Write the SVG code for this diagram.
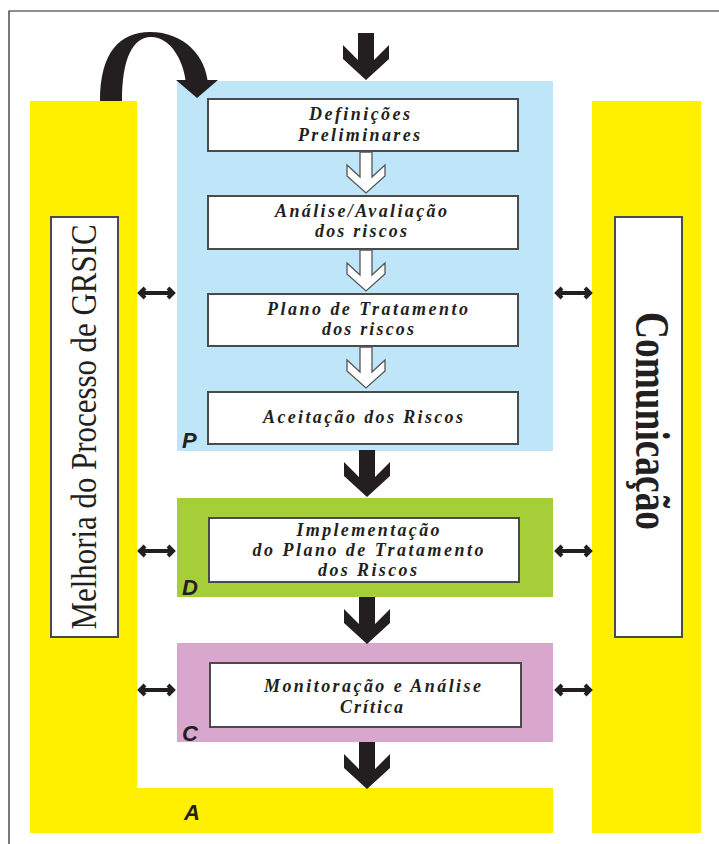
<svg xmlns="http://www.w3.org/2000/svg" width="719" height="844" viewBox="0 0 719 844">
<defs>
<style>
.yel{fill:#FFF000}
.box{fill:#ffffff;stroke:#4a4a4a;stroke-width:2}
.lbl{font-family:"Liberation Serif","Times New Roman",serif;font-weight:bold;font-style:italic;font-size:18px;fill:#231F20;text-anchor:middle}
.pdca{font-family:"Liberation Sans",Arial,sans-serif;font-weight:bold;font-style:italic;font-size:22px;fill:#231F20}
.side{font-family:"Liberation Serif","Times New Roman",serif;fill:#231F20;text-anchor:middle}
.big{fill:#231F20}
.hollow{fill:#ffffff;stroke:#555;stroke-width:1.3;stroke-linejoin:miter}
.dbl{fill:none;stroke:#231F20;stroke-width:4;stroke-linecap:butt;stroke-linejoin:miter}
</style>
<polygon id="bigArrow" points="-8,0 8,0 8,27 23,12 23,26 0,47 -23,26 -23,12 -8,27"/>
<polygon id="whiteArrow" points="-6,0 6,0 6,25 19,13 19,24 0,41 -19,24 -19,13 -6,25"/>
<g id="dblArrow">
<line x1="3" y1="0" x2="36" y2="0"/>
<polyline points="8,-5 3,0 8,5"/>
<polyline points="31,-5 36,0 31,5"/>
</g>
</defs>
<rect x="0" y="0" width="719" height="844" fill="#ffffff"/>
<g id="frame" fill="none" stroke="#231F20" stroke-width="1.2">
<polyline points="9,844 9,11 719,11"/>
</g>
<g id="melhoria">
<path class="yel" d="M30,101 H137 V788 H553 V833 H30 Z"/>
<rect class="box" x="51" y="217" width="67" height="420"/>
<text class="side" transform="translate(96,427) rotate(-90)" font-size="36" textLength="405" lengthAdjust="spacingAndGlyphs">Melhoria do Processo de GRSIC</text>
</g>
<g id="A">
<text class="pdca" x="184" y="820">A</text>
</g>
<g id="comunicacao">
<rect class="yel" x="592" y="101" width="109" height="732"/>
<rect class="box" x="615" y="217" width="67" height="420"/>
<text class="side" transform="translate(636,421) rotate(90)" font-size="48" font-weight="bold" textLength="218" lengthAdjust="spacingAndGlyphs">Comunicação</text>
</g>
<g id="P">
<rect x="177" y="81" width="376" height="370" fill="#BEE5F8"/>
<text class="pdca" x="182" y="448">P</text>
</g>
<g id="definicoes">
<rect class="box" x="208" y="99" width="310" height="52"/>
<text class="lbl" x="359.5" y="120" textLength="101" lengthAdjust="spacing">Definições</text>
<text class="lbl" x="359" y="141" textLength="122" lengthAdjust="spacing">Preliminares</text>
</g>
<g id="analise">
<rect class="box" x="208" y="196" width="310" height="53"/>
<text class="lbl" x="361" y="217" textLength="172" lengthAdjust="spacing">Análise/Avaliação</text>
<text class="lbl" x="361" y="237" textLength="92" lengthAdjust="spacing">dos riscos</text>
</g>
<g id="plano">
<rect class="box" x="208" y="294" width="310" height="52"/>
<text class="lbl" x="367.5" y="315" textLength="201" lengthAdjust="spacing">Plano de Tratamento</text>
<text class="lbl" x="368" y="335" textLength="92" lengthAdjust="spacing">dos riscos</text>
</g>
<g id="aceitacao">
<rect class="box" x="208" y="392" width="310" height="52"/>
<text class="lbl" x="363" y="423" textLength="200" lengthAdjust="spacing">Aceitação dos Riscos</text>
</g>
<g id="D">
<rect x="177" y="498" width="376" height="99" fill="#A6CE39"/>
<text class="pdca" x="182" y="595">D</text>
</g>
<g id="implementacao">
<rect class="box" x="209" y="518" width="310" height="64"/>
<text class="lbl" x="368" y="536" textLength="143" lengthAdjust="spacing">Implementação</text>
<text class="lbl" x="368" y="556" textLength="231" lengthAdjust="spacing">do Plano de Tratamento</text>
<text class="lbl" x="367.5" y="576" textLength="99" lengthAdjust="spacing">dos Riscos</text>
</g>
<g id="C">
<rect x="177" y="643" width="376" height="99" fill="#D9A6CE"/>
<text class="pdca" x="182" y="741">C</text>
</g>
<g id="monitoracao">
<rect class="box" x="210" y="663" width="311" height="64"/>
<text class="lbl" x="372.5" y="692" textLength="217" lengthAdjust="spacing">Monitoração e Análise</text>
<text class="lbl" x="371.5" y="713" textLength="63" lengthAdjust="spacing">Crítica</text>
</g>
<g id="connectors">
<path class="big" d="M100,101 C100,52 120,32 150,32 C184,32 206,56 208,84 L186,84 C184,60 170,37 151,37 C133,37 122,58 122,101 Z"/>
<polygon class="big" points="176,80 218,80 197,98"/>
<use href="#bigArrow" class="big" transform="translate(366,33)"/>
<use href="#bigArrow" class="big" transform="translate(367,450)"/>
<use href="#bigArrow" class="big" transform="translate(367,597)"/>
<use href="#bigArrow" class="big" transform="translate(367,742)"/>
<use href="#whiteArrow" class="hollow" transform="translate(366,152)"/>
<use href="#whiteArrow" class="hollow" transform="translate(366,250)"/>
<use href="#whiteArrow" class="hollow" transform="translate(366,347)"/>
<use href="#dblArrow" class="dbl" transform="translate(137,293)"/>
<use href="#dblArrow" class="dbl" transform="translate(137,551)"/>
<use href="#dblArrow" class="dbl" transform="translate(137,690)"/>
<use href="#dblArrow" class="dbl" transform="translate(554,293)"/>
<use href="#dblArrow" class="dbl" transform="translate(554,551)"/>
<use href="#dblArrow" class="dbl" transform="translate(554,690)"/>
</g>
</svg>
